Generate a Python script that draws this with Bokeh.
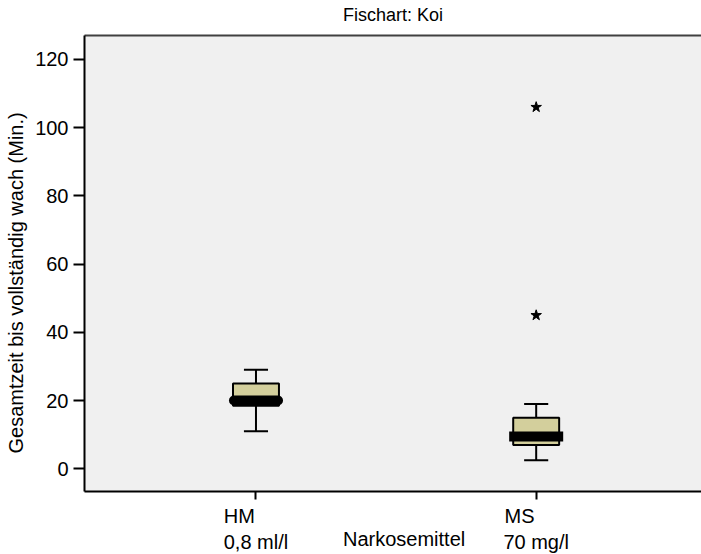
from bokeh.plotting import figure
from bokeh.models import Range1d, FixedTicker, LinearAxis
from bokeh.embed import file_html
from bokeh.resources import INLINE

NB = "\u00a0"

# Boxplot summary per anaesthetic group
groups = ["HM" + NB * 6 + "\n0,8 ml/l", "MS" + NB * 6 + "\n70 mg/l"]
positions = [1, 2]
whisker_low = [11, 2.5]
q1 = [18.5, 7]
median = [20, 9.5]
q3 = [25, 15]
whisker_high = [29, 19]
outlier_x = [2, 2]
outlier_y = [45, 106]
y_ticks = [0, 20, 40, 60, 80, 100, 120]

FONT = "Liberation Sans"
BOX_FILL = "#D3CF9C"
BG = "#F0F0F0"
FS = "20px"

p = figure(width=701, height=554, output_backend="svg", toolbar_location=None,
           x_range=Range1d(0.388, 2.59), y_range=Range1d(-6.65, 127.0),
           min_border_left=84, min_border_right=0, min_border_top=35,
           min_border_bottom=63)
p.background_fill_color = BG
p.border_fill_color = "white"
p.outline_line_color = None
p.xgrid.visible = False
p.ygrid.visible = False

# y axis
ya = p.yaxis[0]
ya.ticker = FixedTicker(ticks=y_ticks)
ya.axis_label = "Gesamtzeit bis vollständig wach (Min.)" + NB * 7
ya.axis_label_text_font = FONT
ya.axis_label_text_font_size = FS
ya.axis_label_text_font_style = "normal"
ya.axis_label_text_color = "black"
ya.axis_label_standoff = 5
ya.major_label_text_font = FONT
ya.major_label_text_font_size = FS
ya.major_label_text_color = "black"
ya.major_label_standoff = 5
ya.major_tick_out = 11
ya.major_tick_in = 0
ya.minor_tick_out = 0
ya.minor_tick_in = 0
ya.major_tick_line_width = 2
ya.axis_line_width = 2
ya.axis_line_color = "black"

# x axis
xa = p.xaxis[0]
xa.ticker = FixedTicker(ticks=positions)
xa.major_label_overrides = {pos: g for pos, g in zip(positions, groups)}
xa.major_label_text_font = FONT
xa.major_label_text_font_size = FS
xa.major_label_text_color = "black"
xa.major_label_standoff = 5
xa.major_tick_out = 8
xa.major_tick_in = 0
xa.minor_tick_out = 0
xa.minor_tick_in = 0
xa.major_tick_line_width = 2
xa.axis_line_width = 2
xa.axis_line_color = "black"
xa.axis_label = NB * 4 + "Narkosemittel"
xa.axis_label_text_font = FONT
xa.axis_label_text_font_size = FS
xa.axis_label_text_font_style = "normal"
xa.axis_label_text_color = "black"
xa.axis_label_standoff = -28

# top frame line, carrying the chart title
top = LinearAxis(ticker=FixedTicker(ticks=[]), major_label_text_font_size="0px",
                 major_label_standoff=0,
                 axis_line_color="#404040", axis_line_width=2,
                 major_tick_out=0, minor_tick_out=0,
                 axis_label="Fischart: Koi", axis_label_text_font=FONT,
                 axis_label_text_font_size="18px", axis_label_text_font_style="normal",
                 axis_label_text_color="black", axis_label_standoff=11)
p.add_layout(top, "above")

# whiskers
p.segment(x0=positions, y0=q3, x1=positions, y1=whisker_high, line_color="black", line_width=2)
p.segment(x0=positions, y0=q1, x1=positions, y1=whisker_low, line_color="black", line_width=2)
cap = 0.043
p.segment(x0=[x - cap for x in positions], y0=whisker_high,
          x1=[x + cap for x in positions], y1=whisker_high, line_color="black", line_width=2)
p.segment(x0=[x - cap for x in positions], y0=whisker_low,
          x1=[x + cap for x in positions], y1=whisker_low, line_color="black", line_width=2)

# boxes
p.vbar(x=positions, bottom=q1, top=q3, width=0.164, fill_color=BOX_FILL,
       line_color="black", line_width=2)

# medians
p.segment(x0=[positions[0] - 0.0786], y0=[median[0]], x1=[positions[0] + 0.0786], y1=[median[0]],
          line_color="black", line_width=10, line_cap="round")
p.segment(x0=[positions[1] - 0.0964], y0=[median[1]], x1=[positions[1] + 0.0964], y1=[median[1]],
          line_color="black", line_width=10, line_cap="butt")

# extreme values
p.scatter(x=outlier_x, y=outlier_y, marker="star", size=11, fill_color="black",
          line_color="black", line_width=1)

open("out.html", "w").write(file_html(p, INLINE))
